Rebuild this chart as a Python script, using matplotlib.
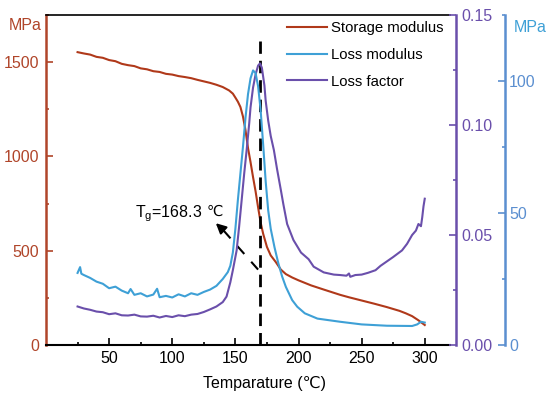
import matplotlib
matplotlib.use("Agg")
import matplotlib.pyplot as plt
from matplotlib.ticker import MultipleLocator, FixedLocator

plt.rcParams["font.family"] = ["Liberation Sans", "DejaVu Sans"]
plt.rcParams["mathtext.fontset"] = "custom"
plt.rcParams["mathtext.rm"] = "Liberation Sans"
plt.rcParams["mathtext.it"] = "Liberation Sans"

# ---- data ----
t_storage = [25, 30, 35, 40, 45, 50, 55, 60, 65, 70, 75, 80, 85, 90, 95, 100,
             105, 110, 115, 120, 125, 130, 135, 140, 145, 148, 150, 152, 154,
             156, 158, 160, 162, 164, 166, 168, 170, 172, 175, 178, 182, 186,
             190, 195, 200, 210, 220, 233, 240, 250, 260, 270, 280, 285, 290,
             295, 300]
storage = [1553, 1546, 1540, 1528, 1523, 1511, 1505, 1491, 1484, 1479, 1467,
           1462, 1452, 1448, 1438, 1434, 1426, 1421, 1415, 1406, 1398, 1390,
           1380, 1368, 1350, 1333, 1312, 1290, 1262, 1212, 1140, 1045, 970,
           890, 815, 730, 650, 590, 520, 475, 440, 400, 376, 358, 343, 316,
           294, 266, 253, 236, 219, 201, 181, 168, 153, 131, 106]

t_loss = [25, 27, 28, 30, 35, 40, 45, 50, 55, 60, 65, 67, 70, 75, 80, 85, 88,
          90, 95, 100, 105, 110, 115, 120, 125, 130, 135, 140, 144, 146, 148,
          150, 152, 154, 156, 158, 160, 162, 164, 166, 168, 170, 172, 174, 176,
          178, 181, 184, 187, 190, 195, 199, 205, 215, 233, 250, 270, 290, 294,
          297, 300]
loss_mod = [27.3, 29.5, 27.0, 26.5, 25.4, 24.0, 23.2, 21.5, 22.1, 20.6, 19.6,
            21.2, 19.0, 19.6, 18.4, 19.1, 21.3, 18.1, 18.6, 18.0, 19.2, 18.4,
            19.6, 19.0, 20.1, 21.0, 22.4, 25.0, 27.6, 30.0, 35.0, 44.0, 55.0,
            65.0, 75.0, 86.0, 95.0, 101.0, 104.0, 103.0, 98.0, 89.0, 76.0,
            62.0, 51.0, 44.0, 37.0, 31.0, 26.0, 22.0, 17.0, 14.5, 12.0, 10.0,
            8.8, 7.8, 7.3, 7.2, 7.8, 8.8, 8.5]

t_factor = [25, 30, 35, 40, 45, 50, 55, 60, 65, 70, 75, 80, 85, 90, 95, 100,
            105, 110, 115, 120, 125, 130, 135, 140, 143, 146, 148, 151, 153,
            155, 157, 159, 161, 162, 164, 166, 168, 169.5, 171, 173, 174, 176,
            178, 180.5, 183, 186, 188, 191, 196, 202, 208, 212, 220, 228, 233,
            238, 240, 241, 245, 250, 255, 261, 265, 270, 275, 282, 286, 290,
            293, 295, 297, 298, 299, 300]
loss_factor = [0.0175, 0.0166, 0.0160, 0.0152, 0.0149, 0.0140, 0.0144, 0.0135,
               0.0134, 0.0138, 0.0130, 0.0129, 0.0133, 0.0125, 0.0132, 0.0127,
               0.0135, 0.0131, 0.0138, 0.0141, 0.0150, 0.0162, 0.0175, 0.0195,
               0.0220, 0.0285, 0.0340, 0.0430, 0.0540, 0.0660, 0.0780, 0.0890,
               0.1010, 0.1080, 0.1170, 0.1230, 0.1270, 0.1280, 0.1260, 0.1180,
               0.1110, 0.1020, 0.0950, 0.0886, 0.0800, 0.0705, 0.0640, 0.0550,
               0.0477, 0.0420, 0.0390, 0.0356, 0.0330, 0.0320, 0.0318, 0.0315,
               0.0325, 0.0310, 0.0318, 0.0320, 0.0328, 0.0340, 0.0360, 0.0380,
               0.0400, 0.0430, 0.0460, 0.0500, 0.0520, 0.0550, 0.0540, 0.0580,
               0.0630, 0.0665]

x_ticks = [50, 100, 150, 200, 250, 300]
tg = 168.3
tg_line = 169.5

c_storage = "#b0391a"
c_left = "#b0452a"
c_lossmod = "#3ea0d6"
c_blue_ax = "#5b8fd0"
c_purple = "#6a4fab"

px = 72 / 100  # one pixel in points

fig = plt.figure(figsize=(5.5, 3.96), dpi=100)
ax = fig.add_axes([46 / 550, 1 - 345 / 396, 404 / 550, 330 / 396])
ax2 = ax.twinx()
ax3 = ax.twinx()

l1, = ax.plot(t_storage, storage, color=c_storage, lw=1.5, label="Storage modulus")
l2, = ax3.plot(t_loss, loss_mod, color=c_lossmod, lw=1.5, label="Loss modulus")
l3, = ax2.plot(t_factor, loss_factor, color=c_purple, lw=1.5, label="Loss factor")

ax.set_xlim(0, 320)
ax.set_ylim(0, 1750)
ax2.set_ylim(0, 0.15)
ax3.set_ylim(0, 125)

ax.xaxis.set_major_locator(FixedLocator(x_ticks))
ax.xaxis.set_minor_locator(FixedLocator([25, 75, 125, 175, 225, 275]))
ax.yaxis.set_major_locator(MultipleLocator(500))
ax.yaxis.set_minor_locator(MultipleLocator(250))
ax2.yaxis.set_major_locator(MultipleLocator(0.05))
ax2.yaxis.set_minor_locator(MultipleLocator(0.025))
ax3.yaxis.set_major_locator(MultipleLocator(50))
ax3.yaxis.set_minor_locator(MultipleLocator(25))
ax2.yaxis.set_major_formatter(plt.FormatStrFormatter("%.2f"))

fs = 11.5
ax.tick_params(axis="x", which="major", direction="in", length=5, width=1.2,
               labelsize=fs, top=False, pad=4)
ax.tick_params(axis="x", which="minor", direction="in", length=2.5, width=1.2, top=False)
ax.tick_params(axis="y", which="both", direction="in", colors=c_left, labelcolor=c_left,
               labelsize=fs, width=1.2, pad=5)
ax.tick_params(axis="y", which="major", length=5)
ax.tick_params(axis="y", which="minor", length=2.5)
ax2.tick_params(axis="y", which="both", direction="in", colors=c_purple, labelsize=fs,
                width=1.2, pad=4)
ax2.tick_params(axis="y", which="major", length=5)
ax2.tick_params(axis="y", which="minor", length=2.5)
ax3.tick_params(axis="y", which="both", direction="in", colors=c_blue_ax, labelsize=fs,
                width=1.2, pad=3)
ax3.tick_params(axis="y", which="major", length=5)
ax3.tick_params(axis="y", which="minor", length=2.5)

ax.spines["left"].set_color(c_left)
ax.spines["left"].set_linewidth(1.8)
ax.spines["bottom"].set_linewidth(1.5)
ax.spines["top"].set_linewidth(1.2)
ax.spines["right"].set_visible(False)
for a in (ax2, ax3):
    for s in ("left", "top", "bottom"):
        a.spines[s].set_visible(False)
ax2.spines["right"].set_position(("outward", 6 * px))
ax2.spines["right"].set_color(c_purple)
ax2.spines["right"].set_linewidth(1.8)
ax3.spines["right"].set_position(("outward", 55 * px))
ax3.spines["right"].set_color(c_blue_ax)
ax3.spines["right"].set_linewidth(1.8)

# unit labels
fig.text(25 / 550, 1 - 25 / 396, "MPa", color=c_left, fontsize=fs, ha="center", va="center")
fig.text(530 / 550, 1 - 27 / 396, "MPa", color=c_lossmod, fontsize=fs, ha="center", va="center")

ax.set_xlabel("Temparature (\u2103)", fontsize=fs)
ax.xaxis.set_label_coords(0.54, -0.095)

# Tg marker
ax.vlines(tg_line, 0, 1610, colors="black", linestyles=(0, (4.5, 2.5)), lw=2, zorder=5)
ax.plot([168, 140], [400, 612], color="black", lw=1.5, ls=(0, (5, 5)))
ax.annotate("", xy=(134.5, 646), xytext=(140, 612),
            arrowprops=dict(arrowstyle="-|>,head_length=0.6,head_width=0.3",
                            color="black", lw=1.5, shrinkA=0, shrinkB=0))
t_lbl = ax.text(70.5, 675, "T$_\\mathrm{g}$=%.1f" % tg, fontsize=fs, ha="left", va="baseline")
ax.annotate("\u2103", xy=(1, 1), xycoords=t_lbl, xytext=(3, 0), textcoords="offset points",
            fontsize=fs - 1, ha="left", va="top", family=["DejaVu Sans"])

ax.legend(handles=[l1, l2, l3], loc="upper left", bbox_to_anchor=(0.597, 0.981),
          frameon=False, fontsize=10.7, handlelength=2.7, handletextpad=0.25,
          labelspacing=0.85, borderaxespad=0, borderpad=0)

fig.savefig("out.png", dpi=100)
